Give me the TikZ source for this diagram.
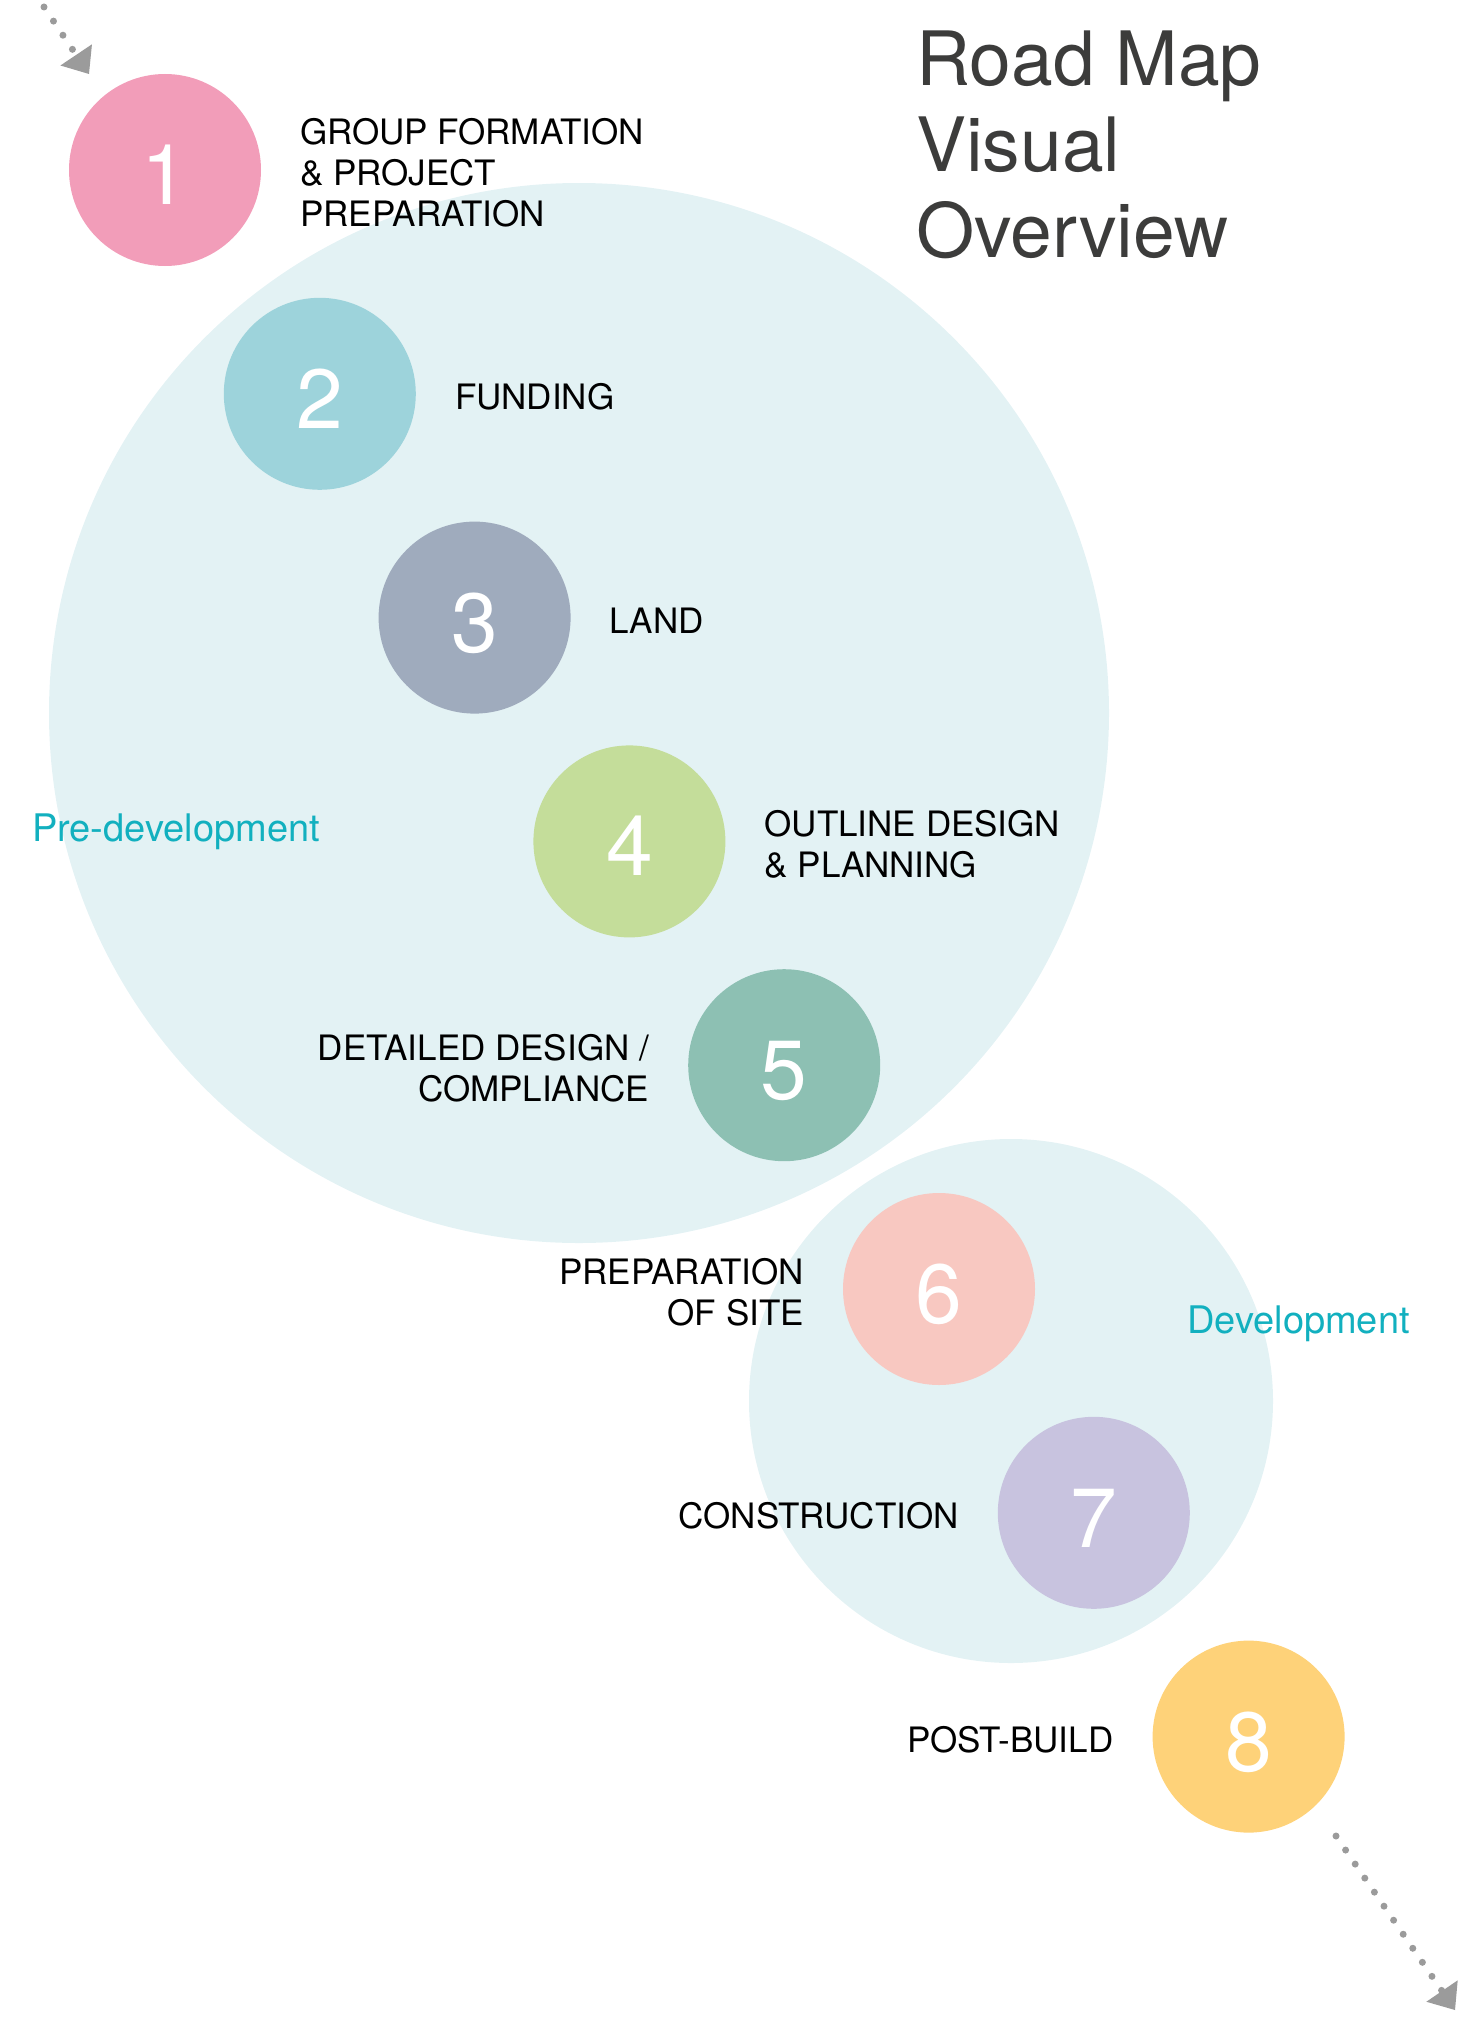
\documentclass[tikz,border=0pt]{standalone}
\usepackage{fontspec}
\setmainfont{TeX Gyre Heros}
\usetikzlibrary{arrows.meta}

\definecolor{phasebg}{HTML}{E3F2F4}
\definecolor{stepA}{HTML}{F29DB9}
\definecolor{stepB}{HTML}{9DD3DB}
\definecolor{stepC}{HTML}{9FABBD}
\definecolor{stepD}{HTML}{C4DD9A}
\definecolor{stepE}{HTML}{8DC0B3}
\definecolor{stepF}{HTML}{F8C8C1}
\definecolor{stepG}{HTML}{C8C3DF}
\definecolor{stepH}{HTML}{FED279}
\definecolor{phasetext}{HTML}{12B0BF}
\definecolor{titletext}{HTML}{3C3C3B}
\definecolor{flowgray}{HTML}{9B9B9B}

\begin{document}
\begin{tikzpicture}[x=1pt, y=-1pt,
  phase/.style={circle, fill=phasebg, inner sep=0pt, minimum size=#1},
  stepdot/.style={circle, fill=#1, inner sep=0pt, minimum size=192pt,
    text=white, font=\fontsize{84}{84}\selectfont,
    text height=69pt, text depth=0pt},
  steplabel/.style={inner sep=0pt, text=black,
    font=\fontsize{35}{41}\selectfont},
  phaselabel/.style={inner sep=0pt, anchor=west, text=phasetext,
    font=\fontsize{38}{38}\selectfont},
  flow/.style={draw=flowgray, line width=7pt, line cap=round,
    dash pattern=on 0pt off 17pt,
    -{Triangle[width=38pt, length=23pt, line width'=0pt 0, fill=flowgray]}}
]
\useasboundingbox (0,0) rectangle (1464,2023);

% phase backgrounds
\node[phase=1060pt] (pre) at (579,713) {};
\node[phase=524pt]  (dev) at (1011,1401) {};

% numbered steps
\node[stepdot=stepA] (s1) at (165.0,170.0) {1};
\node[stepdot=stepB] (s2) at (319.8,393.8) {2};
\node[stepdot=stepC] (s3) at (474.6,617.6) {3};
\node[stepdot=stepD] (s4) at (629.4,841.4) {4};
\node[stepdot=stepE] (s5) at (784.2,1065.2) {5};
\node[stepdot=stepF] (s6) at (939.0,1289.0) {6};
\node[stepdot=stepG] (s7) at (1093.8,1512.8) {7};
\node[stepdot=stepH] (s8) at (1248.6,1736.6) {8};

% step captions
\node[steplabel, anchor=west, align=left] (l1) at ([xshift=135pt, yshift=-3pt]s1.center)
  {GROUP FORMATION\\\& PROJECT\\PREPARATION};
\node[steplabel, anchor=west, align=left] (l2) at ([xshift=135pt, yshift=-3pt]s2.center) {FUNDING};
\node[steplabel, anchor=west, align=left] (l3) at ([xshift=135pt, yshift=-3pt]s3.center) {LAND};
\node[steplabel, anchor=west, align=left] (l4) at ([xshift=135pt, yshift=-3pt]s4.center)
  {OUTLINE DESIGN\\\& PLANNING};
\node[steplabel, anchor=east, align=right] (l5) at ([xshift=-135pt, yshift=-3pt]s5.center)
  {DETAILED DESIGN /\\COMPLIANCE};
\node[steplabel, anchor=east, align=right] (l6) at ([xshift=-135pt, yshift=-3pt]s6.center)
  {PREPARATION\\OF SITE};
\node[steplabel, anchor=east, align=right] (l7) at ([xshift=-135pt, yshift=-3pt]s7.center) {CONSTRUCTION};
\node[steplabel, anchor=east, align=right] (l8) at ([xshift=-135pt, yshift=-3pt]s8.center) {POST-BUILD};

% phase names
\node[phaselabel] (plPre) at (32,832) {Pre-development};
\node[phaselabel] (plDev) at (1187,1324) {Development};

% heading
\node[anchor=west, align=left, inner sep=0pt, text=titletext,
  font=\fontsize{75}{86}\selectfont] (title) at (916,145)
  {Road Map\\Visual\\Overview};

% entry and exit flow
\coordinate (inA) at (44,7);
\coordinate (inB) at (89,74);
\coordinate (outA) at (1336,1836);
\coordinate (outB) at (1455,2010);
\draw[flow] (inA) -- (inB);
\draw[flow] (outA) -- (outB);
\end{tikzpicture}
\end{document}
